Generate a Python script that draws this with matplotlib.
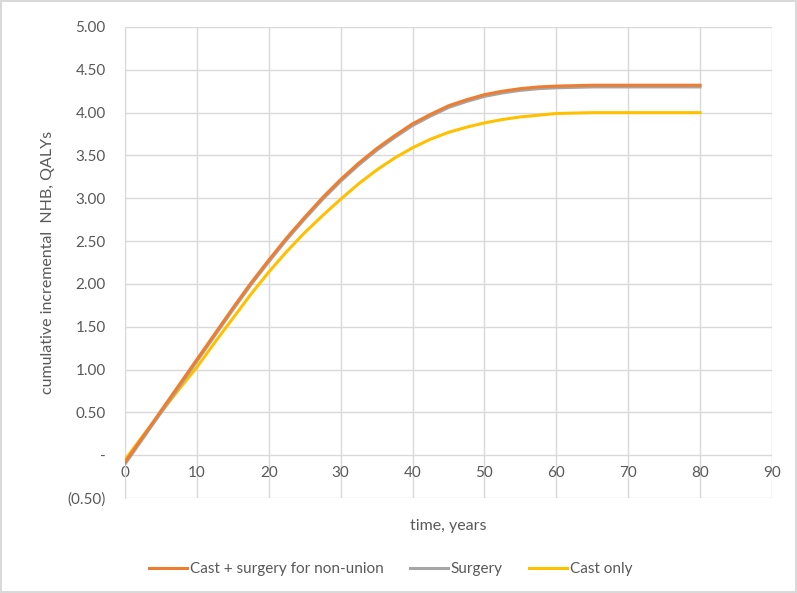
import numpy as np
import matplotlib.pyplot as plt
from matplotlib.ticker import FuncFormatter

plt.rcParams['font.family'] = ['Lato', 'DejaVu Sans']

years = [0, 2.5, 5, 7.5, 10, 12.5, 15, 17.5, 20, 22.5, 25, 27.5, 30, 32.5, 35,
         37.5, 40, 42.5, 45, 47.5, 50, 52.5, 55, 57.5, 60, 65, 70, 75, 80]
cast_surgery = [-0.08, 0.22, 0.52, 0.82, 1.12, 1.42, 1.72, 2.01, 2.28, 2.54, 2.78, 3.01,
                3.22, 3.41, 3.58, 3.73, 3.87, 3.98, 4.08, 4.15, 4.21, 4.25, 4.28, 4.30,
                4.31, 4.32, 4.32, 4.32, 4.32]
surgery = [-0.10, 0.20, 0.50, 0.80, 1.10, 1.40, 1.70, 1.99, 2.26, 2.52, 2.76, 2.99,
           3.20, 3.39, 3.56, 3.71, 3.85, 3.96, 4.06, 4.13, 4.19, 4.23, 4.26, 4.28,
           4.29, 4.30, 4.30, 4.30, 4.30]
cast_only = [-0.05, 0.23, 0.50, 0.77, 1.03, 1.32, 1.60, 1.88, 2.14, 2.38, 2.60, 2.80,
             2.99, 3.17, 3.33, 3.47, 3.59, 3.69, 3.77, 3.83, 3.88, 3.92, 3.95, 3.97,
             3.99, 4.00, 4.00, 4.00, 4.00]

grey = '#595959'
fig = plt.figure(figsize=(7.97, 5.93), dpi=100)
fig.patch.set_edgecolor('#d9d9d9')
fig.patch.set_linewidth(1.5)
ax = fig.add_axes([0.157, 0.160, 0.8115, 0.7945])

ax.plot(years, cast_only, color='#FFC000', lw=2.2, label='Cast only', zorder=3)
ax.plot(years, surgery, color='#A5A5A5', lw=2.2, label='Surgery', zorder=4)
ax.plot(years, cast_surgery, color='#ED7D31', lw=2.2, label='Cast + surgery for non-union', zorder=5)

ax.set_xlim(0, 90)
ax.set_ylim(-0.5, 5.0)
ax.set_xticks(np.arange(0, 91, 10))
ax.set_yticks(np.arange(-0.5, 5.01, 0.5))

def yfmt(v, pos):
    if abs(v) < 1e-9:
        return '-'
    if v < 0:
        return '(%.2f)' % abs(v)
    return '%.2f' % v

ax.yaxis.set_major_formatter(FuncFormatter(yfmt))
ax.grid(True, color='#d9d9d9', lw=1)
ax.set_axisbelow(True)
for s in ['top', 'right']:
    ax.spines[s].set_visible(False)
ax.spines['left'].set_color('#d9d9d9')
ax.spines['bottom'].set_position(('data', 0))
ax.spines['bottom'].set_visible(False)
ax.tick_params(length=0, colors=grey, labelsize=11)
ax.tick_params(axis='y', pad=14)
ax.tick_params(axis='x', pad=8)

ax.set_xlabel('time, years', color=grey, fontsize=11.5)
ax.xaxis.set_label_coords(0.5, -0.045)
ax.set_ylabel('cumulative incremental  NHB, QALYs', color=grey, fontsize=11.5)
ax.yaxis.set_label_coords(-0.108, 0.5)

handles, labels = ax.get_legend_handles_labels()
order = [2, 1, 0]
fig.legend([handles[i] for i in order], [labels[i] for i in order],
           loc='center', bbox_to_anchor=(0.49, 0.04), ncol=3, frameon=False,
           fontsize=11, labelcolor=grey, handlelength=2.5, columnspacing=1.7,
           handletextpad=0.2)

fig.savefig('out.png', dpi=100)
